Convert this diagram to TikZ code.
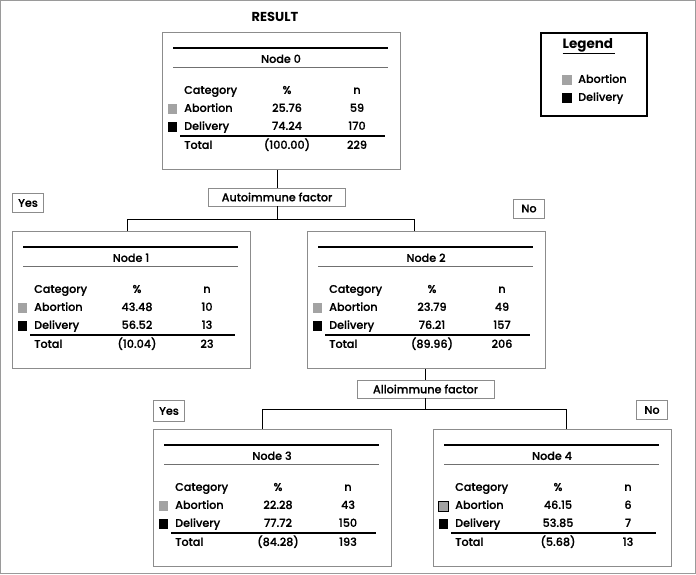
\documentclass[tikz,border=0pt]{standalone}
\usepackage{fontspec}
\setmainfont{Poppins}[UprightFont={* Medium}, BoldFont={* Bold}]
\definecolor{boxgray}{HTML}{8C8C8C}
\definecolor{abgray}{HTML}{A3A3A3}
\definecolor{framegray}{HTML}{9A9A9A}
\definecolor{rulegray}{HTML}{707070}
\newcommand{\cellfont}{\fontsize{11.2}{13}\selectfont\addfontfeature{FakeBold=0.6}}
\tikzset{
  nodebox/.style={draw=boxgray, line width=0.8pt, minimum width=238pt, minimum height=137pt, inner sep=0pt, anchor=north west},
  splitbox/.style={draw=boxgray, line width=0.8pt, minimum width=137pt, minimum height=18pt, inner sep=0pt, font=\cellfont},
  ansbox/.style={draw=boxgray, line width=0.8pt, minimum width=31pt, minimum height=19pt, inner sep=0pt, font=\cellfont},
  legbox/.style={draw=black, line width=1.4pt, minimum width=106pt, minimum height=83pt, inner sep=0pt},
  cell/.style={inner sep=0pt, font=\cellfont, text height=8.3pt, text depth=2.5pt},
  lblcell/.style={cell, anchor=west},
  ttl/.style={inner sep=0pt, font=\fontsize{13}{15}\selectfont\bfseries},
  toprule/.style={draw=black, line width=1.4pt},
  midrule/.style={draw=rulegray, line width=0.9pt},
  sumrule/.style={draw=black, line width=1.4pt},
  conn/.style={draw=black, line width=0.8pt},
  swab/.style={fill=abgray, minimum size=9.5pt, inner sep=0pt},
  swdel/.style={fill=black, minimum size=9.5pt, inner sep=0pt},
}
% #1 name, #2 top-left corner, #3 node number, #4--#9 abortion, delivery and total values
\newcommand{\treenode}[9]{%
  \begin{scope}[shift={#2}]
    \node[nodebox] (#1) at (0,0) {};
    \draw[toprule] (11,16) -- (226,16);
    \node[cell] (#1-hd) at (119,28) {Node #3};
    \draw[midrule] (11,35) -- (226,35);
    \node[lblcell] (#1-cat) at (22,59) {Category};
    \node[cell] (#1-pct) at (125,59) {\%};
    \node[cell] (#1-n) at (195,59) {n};
    \node[swab] (#1-sa) at (10.5,77) {};
    \node[lblcell] (#1-ab) at (22,77) {Abortion};
    \node[cell] (#1-abp) at (125,77) {#4};
    \node[cell] (#1-abn) at (195,77) {#5};
    \node[swdel] (#1-sd) at (10.5,95) {};
    \node[lblcell] (#1-de) at (22,95) {Delivery};
    \node[cell] (#1-dep) at (125,95) {#6};
    \node[cell] (#1-den) at (195,95) {#7};
    \draw[sumrule] (18,104) -- (223,104);
    \node[lblcell] (#1-tot) at (22,114) {Total};
    \node[cell] (#1-totp) at (125,114) {(#8)};
    \node[cell] (#1-totn) at (195,114) {#9};
  \end{scope}}

\begin{document}
\begin{tikzpicture}[x=1pt,y=-1pt]
  \useasboundingbox (0,0) rectangle (696,574);
  \draw[framegray, line width=0.8pt] (0.5,0.5) rectangle (695.5,573.5);
  \node[ttl] (title) at (275,17) {RESULT};
  \treenode{n0}{(162,32)}{0}{25.76}{59}{74.24}{170}{100.00}{229}
  \treenode{n1}{(12,231)}{1}{43.48}{10}{56.52}{13}{10.04}{23}
  \treenode{n2}{(307,231)}{2}{23.79}{49}{76.21}{157}{89.96}{206}
  \treenode{n3}{(153,429)}{3}{22.28}{43}{77.72}{150}{84.28}{193}
  \treenode{n4}{(433,429)}{4}{46.15}{6}{53.85}{7}{5.68}{13}
  \draw[black, line width=0.7pt] (n4-sa.south west) rectangle (n4-sa.north east);
  \node[splitbox] (af) at (277,197) {Autoimmune factor};
  \node[splitbox] (ag) at (425.5,389) {Alloimmune factor};
  \node[ansbox] (yes1) at (28,203) {Yes};
  \node[ansbox] (no1) at (529,208.5) {No};
  \node[ansbox, minimum height=21pt] (yes2) at (169,411) {Yes};
  \node[ansbox] (no2) at (652,410) {No};
  \draw[conn] (n0.south -| af.north) -- (af.north);
  \draw[conn] (af.south) -- ++(0,13) coordinate (j1);
  \draw[conn] (j1) -| ([xshift=-4pt]n1.north);
  \draw[conn] (j1) -| ([xshift=-12pt]n2.north);
  \draw[conn] (n2.south -| ag.north) -- (ag.north);
  \draw[conn] (ag.south) -- ++(0,11) coordinate (j2);
  \draw[conn] (j2) -| ([xshift=-10pt]n3.north);
  \draw[conn] (j2) -| ([xshift=14pt]n4.north);
  \node[legbox] (leg) at (594,74.5) {};
  \node[ttl, font=\fontsize{13.5}{15}\selectfont\bfseries] (legt) at (589,46) {\underline{Legend\,}};
  \node[swab, minimum size=10pt] (legsa) at (567,80) {};
  \node[lblcell] (legab) at (578,80) {Abortion};
  \node[swdel, minimum size=10pt] (legsd) at (567,98) {};
  \node[lblcell] (legde) at (578,98) {Delivery};
\end{tikzpicture}
\end{document}
